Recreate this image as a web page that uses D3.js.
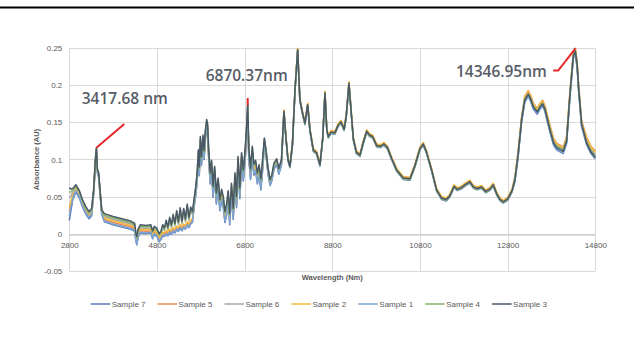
<!DOCTYPE html>
<html>
<head>
<meta charset="utf-8">
<script src="https://cdn.jsdelivr.net/npm/d3@7"></script>
<style>
  html, body { margin: 0; padding: 0; background: #fff; }
  svg { display: block; font-family: "Liberation Sans", Arial, sans-serif; }
</style>
</head>
<body>
<svg id="chart" width="634" height="341"></svg>
<script>
// wavelength (Nm) shared by every sample
const wavelength = [
  2800,2840,2880,2950,3030,3100,3180,3250,3310,3360,
  3390,3418,3440,3470,3500,3540,3600,3800,4000,4200,
  4290,4320,4340,4370,4420,4550,4660,4700,4740,4800,
  4850,4890,4930,4970,5010,5050,5090,5130,5170,5210,
  5250,5290,5330,5370,5410,5450,5490,5530,5570,5610,
  5650,5690,5720,5745,5765,5790,5815,5850,5875,5905,
  5935,5955,5980,6015,6045,6080,6115,6155,6195,6235,
  6275,6315,6350,6390,6425,6460,6500,6540,6580,6615,
  6650,6690,6730,6770,6810,6845,6870,6895,6935,6975,
  7010,7050,7090,7130,7170,7210,7250,7290,7335,7380,
  7420,7470,7530,7580,7640,7697,7745,7790,7834,7890,
  7950,8010,8060,8120,8176,8238,8290,8366,8442,8519,
  8580,8633,8675,8709,8770,8860,8930,8998,9070,9120,
  9180,9230,9280,9350,9431,9510,9584,9650,9720,9812,
  9900,9980,10060,10150,10268,10420,10571,10680,10800,10876,
  10950,11066,11180,11294,11400,11480,11576,11650,11740,11830,
  11940,12020,12100,12207,12300,12390,12471,12550,12630,12700,
  12800,12900,12967,13042,13118,13190,13270,13330,13384,13475,
  13540,13597,13650,13765,13850,13917,14068,14146,14222,14298,
  14345,14385,14420,14488,14603,14700,14800
]

// absorbance, in milli-AU (divided by 1000 when plotted)
const sample7 = [
  18,32,46,56,48,36,26,20,24,56, 91,110,82,76,54,26,16,12,9,6,
  3,-10,-15,-5,1,0,1,-7,-1,-4, -11,-8,-3,-4,-1,-3,1,-1,3,1,
  5,3,7,4,8,6,11,8,13,15, 37,54,73,101,78,119,92,121,100,128,
  142,136,101,67,84,49,76,40,60,31, 45,34,15,25,43,12,53,19,67,35,
  89,47,94,71,97,130,161,101,73,103, 79,84,67,78,59,85,121,104,80,65,
  71,87,93,80,92,163,126,98,89,118, 193,246,179,161,147,172,138,111,107,91,
  126,188,138,129,135,134,144,149,139,158, 201,163,126,108,104,122,136,131,129,117,
  116,119,114,100,84,73,72,89,113,119, 108,84,57,46,44,49,62,58,60,64,
  68,61,59,61,55,58,64,52,44,41, 45,56,70,105,150,177,185,178,168,161,
  168,172,165,137,119,113,108,122,184,236, 242,224,192,144,120,108,101
]
const sample5 = [
  30,40,50,59,51,39,29,23,27,58, 93,112,84,78,56,28,19,15,12,9,
  6,-7,-12,-2,4,3,4,-4,2,-1, -8,-5,0,-1,2,0,4,2,6,4,
  8,6,10,7,11,9,14,11,16,18, 40,57,76,104,81,122,95,124,103,131,
  145,139,104,71,88,53,80,44,64,35, 49,38,19,29,47,16,57,23,71,39,
  93,51,98,75,101,134,165,105,77,107, 83,88,71,82,63,89,123,106,82,67,
  73,89,95,82,94,166,129,101,92,121, 196,249,182,164,150,175,141,114,110,94,
  129,191,141,132,138,137,147,152,142,161, 204,166,129,111,107,125,139,134,132,120,
  119,122,117,103,87,76,75,92,116,122, 111,87,60,49,47,52,65,61,63,67,
  71,64,62,64,58,61,67,55,47,44, 48,59,77,112,157,185,193,186,176,169,
  176,180,173,146,128,122,117,131,192,244, 250,232,200,152,130,118,111
]
const sample6 = [
  48,51,56,62,54,42,32,26,30,60, 95,114,86,80,58,30,23,19,16,13,
  10,-3,-8,2,8,7,8,0,6,3, -4,-1,8,4,14,5,18,8,22,10,
  27,12,31,13,30,16,36,18,32,26, 44,62,81,109,86,127,100,129,108,136,
  150,144,109,77,94,59,86,50,70,41, 55,44,25,35,53,22,63,29,77,45,
  99,57,104,81,107,140,171,111,83,113, 89,94,77,88,69,95,126,109,85,70,
  76,92,98,85,97,164,127,99,90,119, 194,247,180,162,148,173,139,112,108,92,
  127,189,139,130,136,135,145,150,140,159, 202,164,127,109,105,123,137,132,130,118,
  117,120,115,101,85,74,73,90,114,120, 109,85,58,47,45,50,63,59,61,65,
  69,62,60,62,56,59,65,53,45,42, 46,57,75,110,155,182,190,183,173,166,
  173,177,170,143,125,119,114,128,189,241, 247,229,197,149,126,114,107
]
const sample2 = [
  36,44,52,60,52,40,30,24,28,59, 94,113,85,79,57,29,21,17,14,11,
  8,-5,-10,0,6,5,6,-2,4,1, -6,-3,2,1,4,2,6,4,8,6,
  10,8,12,9,13,11,16,13,18,20, 42,59,78,106,83,124,97,126,105,133,
  147,141,106,74,91,56,83,47,67,38, 52,41,22,32,50,19,60,26,74,42,
  96,54,101,78,104,137,168,108,80,110, 86,91,74,85,66,92,125,108,84,69,
  75,91,97,84,96,167,130,102,93,122, 197,250,183,165,151,176,142,115,111,95,
  130,192,142,133,139,138,148,153,143,162, 205,167,130,112,108,126,140,135,133,121,
  120,123,118,104,88,77,76,93,117,123, 112,88,61,50,48,53,66,62,64,68,
  72,65,63,65,59,62,68,56,48,45, 49,60,76,111,156,184,192,185,175,168,
  175,179,172,145,127,121,116,130,191,243, 249,231,199,151,129,117,110
]
const sample1 = [
  24,36,48,58,50,38,28,22,26,57, 92,111,83,77,55,27,17,13,10,7,
  4,-9,-14,-4,2,1,2,-6,0,-3, -10,-7,-2,-3,0,-2,2,0,4,2,
  6,4,8,5,9,7,12,9,14,16, 38,55,74,102,79,120,93,122,101,129,
  143,137,102,69,86,51,78,42,62,33, 47,36,17,27,45,14,55,21,69,37,
  91,49,96,73,99,132,163,103,75,105, 81,86,69,80,61,87,122,105,81,66,
  72,88,94,81,93,164,127,99,90,119, 194,247,180,162,148,173,139,112,108,92,
  127,189,139,130,136,135,145,150,140,159, 202,164,127,109,105,123,137,132,130,118,
  117,120,115,101,85,74,73,90,114,120, 109,85,58,47,45,50,63,59,61,65,
  69,62,60,62,56,59,65,53,45,42, 46,57,71,106,151,178,186,179,169,162,
  169,173,166,138,120,114,109,123,185,237, 243,225,193,145,121,109,102
]
const sample4 = [
  56,56,59,64,56,44,34,28,32,61, 96,115,87,81,59,31,25,21,18,15,
  12,-1,-6,4,10,9,10,2,8,5, -2,1,10,6,16,7,20,10,24,12,
  29,14,33,15,32,18,38,20,34,28, 46,64,83,111,88,129,102,131,110,138,
  152,146,111,80,97,62,89,53,73,44, 58,47,28,38,56,25,66,32,80,48,
  102,60,107,84,110,143,174,114,86,116, 92,97,80,91,72,98,128,111,87,72,
  78,94,100,87,99,164,127,99,90,119, 194,247,180,162,148,173,139,112,108,92,
  127,189,139,130,136,135,145,150,140,159, 202,164,127,109,105,123,137,132,130,118,
  117,120,115,101,85,74,73,90,114,120, 109,85,58,47,45,50,63,59,61,65,
  69,62,60,62,56,59,65,53,45,42, 46,57,74,109,154,181,189,182,172,165,
  172,176,169,142,124,118,113,127,188,240, 246,228,196,148,124,112,105
]
const sample3 = [
  62,60,61,66,58,46,36,30,34,62, 97,116,88,82,60,32,27,23,20,17,
  14,1,-4,6,12,11,12,4,10,7, 0,3,12,8,18,9,22,12,26,14,
  31,16,35,17,34,20,40,22,36,30, 48,66,85,113,90,131,104,133,112,140,
  154,148,113,82,99,64,91,55,75,46, 60,49,30,40,58,27,68,34,82,50,
  104,62,109,86,112,145,176,116,88,118, 94,99,82,93,74,100,129,112,88,73,
  79,95,101,88,100,165,128,100,91,120, 195,248,181,163,149,174,140,113,109,93,
  128,190,140,131,137,136,146,151,141,160, 203,165,128,110,106,124,138,133,131,119,
  118,121,116,102,86,75,74,91,115,121, 110,86,59,48,46,51,64,60,62,66,
  70,63,61,63,57,60,66,54,46,43, 47,58,73,108,153,180,188,181,171,164,
  171,175,168,140,122,116,111,125,188,240, 246,228,196,148,122,110,103
]

const seriesLabels = ["Sample 7", "Sample 5", "Sample 6", "Sample 2", "Sample 1", "Sample 4", "Sample 3"]
const seriesValues = [sample7, sample5, sample6, sample2, sample1, sample4, sample3]
const seriesColours = ["#5a7cb8", "#e8895a", "#a8a8a8", "#f3b83c", "#79a5d5", "#84b066", "#4a5868"]

const xTicks = [2800, 4800, 6800, 8800, 10800, 12800, 14800]
const yTicks = [-0.05, 0, 0.05, 0.1, 0.15, 0.2, 0.25]

// peak call-outs, placed in data units
const peakNotes = [
  { label: "3417.68 nm", at: [3083, 0.175], path: [[3418, 0.116], [4055, 0.148]] },
  { label: "6870.37nm", at: [5911, 0.206], path: [[6870, 0.183], [6870, 0.173]] },
  { label: "14346.95nm", at: [11621, 0.211], path: [[13840, 0.220], [13954, 0.220], [14347, 0.250]] },
]

const svg = d3.select("#chart")
const plot = { left: 69.3, right: 595.3, top: 48.3, bottom: 270.7 }

const x = d3.scaleLinear().domain([2800, 14800]).range([plot.left, plot.right])
const y = d3.scaleLinear().domain([-0.05, 0.25]).range([plot.bottom, plot.top])

svg.append("rect").attr("width", 634).attr("height", 341).attr("fill", "#fff")

// black rule at the very top
svg.append("line")
    .attr("x1", 0).attr("x2", 634)
    .attr("y1", 7.5).attr("y2", 7.5)
    .attr("stroke", "#000")
    .attr("stroke-width", 2)

// gridlines
const grid = svg.append("g").attr("stroke", "#d9d9d9").attr("stroke-width", 1)
grid.selectAll("line.h")
    .data(yTicks)
    .join("line")
    .attr("class", "h")
    .attr("x1", plot.left).attr("x2", plot.right)
    .attr("y1", (d) => Math.round(y(d)) + 0.5)
    .attr("y2", (d) => Math.round(y(d)) + 0.5)
grid.selectAll("line.v")
    .data(xTicks)
    .join("line")
    .attr("class", "v")
    .attr("x1", (d) => Math.round(x(d)) + 0.5)
    .attr("x2", (d) => Math.round(x(d)) + 0.5)
    .attr("y1", plot.top).attr("y2", plot.bottom)

// y axis labels
const yAxis = svg.append("g")
    .attr("transform", `translate(${plot.left},0)`)
    .call(d3.axisLeft(y).tickValues(yTicks).tickSize(0).tickPadding(7)
        .tickFormat((d) => String(Math.round(d * 100) / 100)))
yAxis.select(".domain").remove()
yAxis.selectAll("text").attr("fill", "#595959").style("font-size", "8px")

// x axis sits on zero
const xAxis = svg.append("g")
    .attr("transform", `translate(0,${Math.round(y(0)) + 0.5})`)
    .call(d3.axisBottom(x).tickValues(xTicks).tickSize(0).tickPadding(8).tickFormat(d3.format("d")))
xAxis.select(".domain").attr("stroke", "#bfbfbf")
xAxis.selectAll("text").attr("fill", "#595959").style("font-size", "8px")

// spectra
const line = d3.line()
    .x((d) => x(d[0]))
    .y((d) => y(d[1] / 1000))

svg.append("g")
    .selectAll("path")
    .data(seriesValues)
    .join("path")
    .attr("fill", "none")
    .attr("stroke", (d, i) => seriesColours[i])
    .attr("stroke-width", 1.5)
    .attr("stroke-linejoin", "round")
    .attr("d", (vals) => line(wavelength.map((w, i) => [w, vals[i]]).filter((p) => p[1] !== undefined)))

// axis titles
svg.append("text")
    .attr("x", (plot.left + plot.right) / 2)
    .attr("y", 280)
    .attr("text-anchor", "middle")
    .attr("fill", "#595959")
    .style("font-size", "7.5px")
    .style("font-weight", "bold")
    .text("Wavelength (Nm)")

svg.append("text")
    .attr("transform", `translate(38.5,${(plot.top + plot.bottom) / 2}) rotate(-90)`)
    .attr("text-anchor", "middle")
    .attr("fill", "#595959")
    .style("font-size", "7.5px")
    .style("font-weight", "bold")
    .text("Absorbance (AU)")

// peak call-outs
const notes = svg.append("g")
notes.selectAll("path")
    .data(peakNotes)
    .join("path")
    .attr("fill", "none")
    .attr("stroke", "#e8262a")
    .attr("stroke-width", 2)
    .attr("d", (d) => d3.line().x((p) => x(p[0])).y((p) => y(p[1]))(d.path))
notes.selectAll("text")
    .data(peakNotes)
    .join("text")
    .attr("x", (d) => x(d.at[0]))
    .attr("y", (d) => y(d.at[1]))
    .attr("fill", "#565d66")
    .style("font-family", "'Open Sans', sans-serif")
    .style("font-size", "15.5px")
    .style("font-weight", "600")
    .text((d) => d.label)

// legend
const legend = svg.append("g").attr("transform", "translate(90.7,304)")
const item = legend.selectAll("g")
    .data(seriesLabels)
    .join("g")
    .attr("transform", (d, i) => `translate(${i * 66.9},0)`)
item.append("line")
    .attr("x1", 0).attr("x2", 19.5)
    .attr("stroke", (d, i) => seriesColours[i])
    .attr("stroke-width", 1.5)
item.append("text")
    .attr("x", 21)
    .attr("dy", "0.35em")
    .attr("fill", "#595959")
    .style("font-size", "8px")
    .text((d) => d)
</script>
</body>
</html>
